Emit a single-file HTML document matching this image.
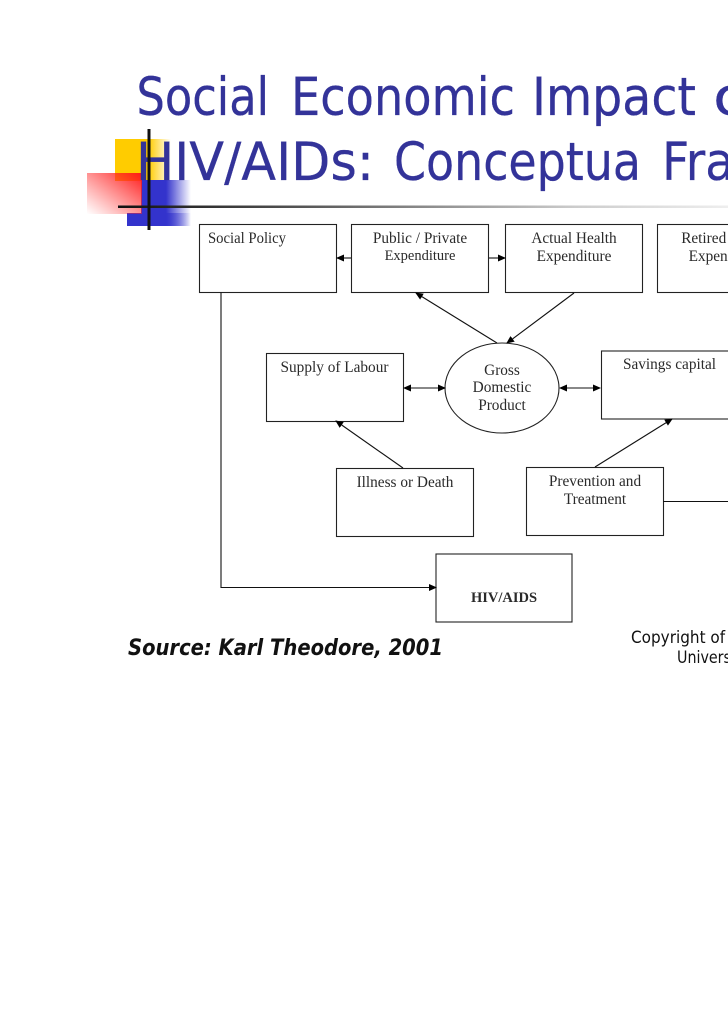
<!DOCTYPE html>
<html><head><meta charset="utf-8"><style>
html,body{margin:0;padding:0;background:#fff;width:728px;height:1031px;overflow:hidden}
svg{display:block}
.t{font-family:"DejaVu Sans",sans-serif;font-size:53px;fill:#333399;stroke:#333399;stroke-width:.3}
.b{font-family:"Liberation Serif",serif;font-size:15.300px;fill:#2a2a2a;text-anchor:middle}
</style></head><body>
<svg width="728" height="1031" viewBox="0 0 728 1031" xmlns="http://www.w3.org/2000/svg">
<defs>
<linearGradient id="y" x1="0" x2="1" y1="0" y2="0"><stop offset="0" stop-color="#ffcc00"/><stop offset=".6" stop-color="#ffcc00"/><stop offset="1" stop-color="#ffcc00" stop-opacity="0"/></linearGradient>
<linearGradient id="r" x1="1" x2="0" y1="0" y2="1"><stop offset="0" stop-color="#ff1a1a"/><stop offset="1" stop-color="#ff3333" stop-opacity="0"/></linearGradient>
<linearGradient id="bl" x1="0" x2="1" y1="0" y2="0"><stop offset="0" stop-color="#3333cc"/><stop offset=".5" stop-color="#3333cc"/><stop offset="1" stop-color="#3333cc" stop-opacity="0"/></linearGradient>
<linearGradient id="l" x1="0" x2="1" y1="0" y2="0"><stop offset="0" stop-color="#111"/><stop offset=".3" stop-color="#555"/><stop offset=".75" stop-color="#ccc"/><stop offset="1" stop-color="#eee"/></linearGradient>
<marker id="a" markerWidth="8" markerHeight="8" refX="7" refY="4" orient="auto-start-reverse" markerUnits="userSpaceOnUse"><path d="M0,0.5 L8,4 L0,7.500 Z" fill="#000"/></marker>
</defs>
<rect x="115" y="139" width="56" height="42" fill="url(#y)"/>
<rect x="141" y="180" width="50" height="46" fill="url(#bl)"/>
<rect x="127" y="213" width="64" height="13" fill="url(#bl)"/>
<rect x="87" y="173" width="55" height="41" fill="url(#r)"/>
<g class="t">
<text x="136.500" y="115" textLength="132.500" lengthAdjust="spacingAndGlyphs">Social</text>
<text x="291" y="115" textLength="224" lengthAdjust="spacingAndGlyphs">Economic</text>
<text x="532" y="115" textLength="164" lengthAdjust="spacingAndGlyphs">Impact</text>
<text x="713" y="115" textLength="60" lengthAdjust="spacingAndGlyphs">of</text>
<text x="136" y="180" textLength="238" lengthAdjust="spacingAndGlyphs">HIV/AIDs:</text>
<text x="394" y="180" textLength="247" lengthAdjust="spacingAndGlyphs">Conceptua</text>
<text x="662" y="180" textLength="262" lengthAdjust="spacingAndGlyphs">Framework</text>
</g>
<rect x="118" y="205.500" width="610" height="2.500" fill="url(#l)"/>
<rect x="147.500" y="129" width="3" height="101" fill="#111"/>
<g fill="#fff" stroke="#222" stroke-width="1.100">
<rect x="199.500" y="224.500" width="137" height="68"/>
<rect x="351.500" y="224.500" width="137" height="68"/>
<rect x="505.500" y="224.500" width="137" height="68"/>
<rect x="657.500" y="224.500" width="137" height="68"/>
<rect x="266.500" y="353.500" width="137" height="68"/>
<rect x="601.500" y="351" width="137" height="68"/>
<rect x="336.500" y="468.500" width="137" height="68"/>
<rect x="526.500" y="467.500" width="137" height="68"/>
<rect x="436" y="554" width="136" height="68"/>
<ellipse cx="502" cy="388" rx="57" ry="45"/>
</g>
<g fill="none" stroke="#111" stroke-width="1.100">
<path d="M351,258 H337" marker-end="url(#a)"/>
<path d="M489,258 H505" marker-end="url(#a)"/>
<path d="M497,343 L416,293" marker-end="url(#a)"/>
<path d="M574,293 L507,343" marker-end="url(#a)"/>
<path d="M404,388 H445" marker-start="url(#a)" marker-end="url(#a)"/>
<path d="M560,388 H600" marker-start="url(#a)" marker-end="url(#a)"/>
<path d="M403,468 L336,421" marker-end="url(#a)"/>
<path d="M595,467 L672,419" marker-end="url(#a)"/>
<path d="M221,292.500 V587.500 H436" marker-end="url(#a)"/>
<path d="M663,501.500 H728"/>
</g>
<text x="208" y="243" class="b" style="text-anchor:start" textLength="78" lengthAdjust="spacingAndGlyphs">Social Policy</text>
<text class="b" x="420" y="243">Public / Private</text>
<text class="b" x="420" y="260" style="font-size:14.500px">Expenditure</text>
<text class="b" x="574" y="243">Actual Health</text>
<text class="b" x="574" y="261">Expenditure</text>
<text class="b" x="726" y="243">Retired Health</text>
<text class="b" x="726" y="261">Expenditure</text>
<text class="b" x="334.500" y="372">Supply of Labour</text>
<text class="b" x="502" y="375">Gross</text>
<text class="b" x="502" y="392">Domestic</text>
<text class="b" x="502" y="410">Product</text>
<text class="b" x="669.500" y="369">Savings capital</text>
<text class="b" x="405" y="487">Illness or Death</text>
<text class="b" x="595" y="486">Prevention and</text>
<text class="b" x="595" y="504">Treatment</text>
<text class="b" x="504" y="602" style="font-weight:bold;font-size:14.500px">HIV/AIDS</text>
<text x="128" y="655" textLength="315" lengthAdjust="spacingAndGlyphs" style="font-family:'DejaVu Sans',sans-serif;font-weight:bold;font-style:italic;font-size:22px;fill:#111">Source: Karl Theodore, 2001</text>
<text x="631" y="643" style="font-family:'DejaVu Sans',sans-serif;font-size:17px;fill:#111" textLength="124" lengthAdjust="spacingAndGlyphs">Copyright of the</text>
<text x="677" y="663" style="font-family:'DejaVu Sans',sans-serif;font-size:17px;fill:#111" textLength="72" lengthAdjust="spacingAndGlyphs">University</text>
</svg>
</body></html>
